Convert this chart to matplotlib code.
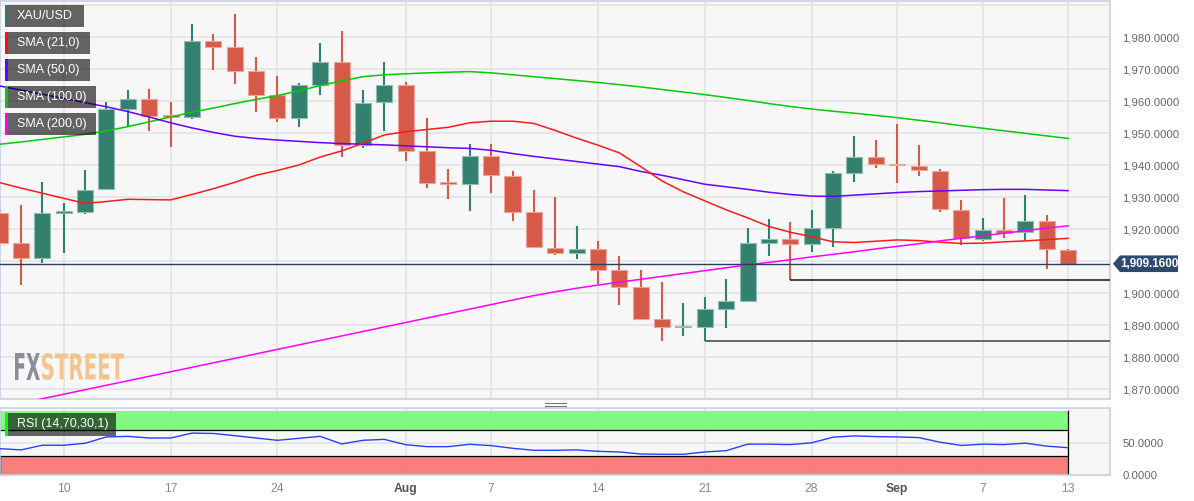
import matplotlib
matplotlib.use("Agg")
import matplotlib.pyplot as plt
from matplotlib.patches import Rectangle, Polygon, PathPatch
from matplotlib.textpath import TextPath
from matplotlib.font_manager import FontProperties
from matplotlib.transforms import Affine2D, IdentityTransform, blended_transform_factory
from matplotlib.lines import Line2D

plt.rcParams['font.family'] = ['Liberation Sans', 'DejaVu Sans']

# ---------------- data ----------------
dates = ["Jul 5", "Jul 6", "Jul 7", "Jul 10", "Jul 11", "Jul 12", "Jul 13", "Jul 14",
         "Jul 17", "Jul 18", "Jul 19", "Jul 20", "Jul 21", "Jul 24", "Jul 25", "Jul 26",
         "Jul 27", "Jul 28", "Jul 31", "Aug 1", "Aug 2", "Aug 3", "Aug 4", "Aug 7",
         "Aug 8", "Aug 9", "Aug 10", "Aug 11", "Aug 14", "Aug 15", "Aug 16", "Aug 17",
         "Aug 18", "Aug 21", "Aug 22", "Aug 23", "Aug 24", "Aug 25", "Aug 28", "Aug 29",
         "Aug 30", "Aug 31", "Sep 1", "Sep 4", "Sep 5", "Sep 6", "Sep 7", "Sep 8",
         "Sep 11", "Sep 12", "Sep 13"]

opens = [1925.0, 1915.6, 1910.9, 1925.0, 1925.3, 1932.5, 1957.5, 1960.6,
         1955.6, 1955.0, 1978.7, 1976.9, 1969.4, 1961.9, 1954.7, 1965.0,
         1972.2, 1946.2, 1959.7, 1965.0, 1944.4, 1934.8, 1934.1, 1942.8,
         1936.6, 1925.3, 1914.1, 1912.5, 1913.8, 1907.2, 1901.9, 1891.9,
         1889.3, 1889.4, 1895.0, 1897.5, 1915.6, 1916.9, 1915.3, 1920.3,
         1937.5, 1942.5, 1940.2, 1939.7, 1938.1, 1925.9, 1916.9, 1919.7,
         1919.1, 1922.5, 1913.4]
highs = [1926.2, 1927.5, 1934.7, 1928.1, 1938.4, 1959.7, 1963.4, 1963.7,
         1959.7, 1984.1, 1980.9, 1987.2, 1973.7, 1967.8, 1965.6, 1978.1,
         1981.9, 1963.4, 1972.2, 1965.9, 1954.7, 1938.7, 1946.6, 1946.6,
         1938.1, 1932.2, 1930.0, 1920.9, 1916.3, 1911.6, 1907.2, 1903.4,
         1896.9, 1898.7, 1904.4, 1920.3, 1923.1, 1922.2, 1925.9, 1938.1,
         1949.1, 1947.8, 1952.8, 1946.2, 1938.7, 1929.1, 1923.4, 1929.7,
         1930.6, 1924.4, 1913.8]
lows = [1914.8, 1902.5, 1909.4, 1912.5, 1924.6, 1932.3, 1952.2, 1950.6,
        1945.6, 1954.4, 1969.7, 1965.3, 1956.6, 1953.4, 1951.9, 1961.9,
        1942.5, 1945.3, 1950.6, 1941.3, 1932.8, 1929.4, 1925.6, 1931.3,
        1922.5, 1914.2, 1911.9, 1910.6, 1902.8, 1896.3, 1891.6, 1885.0,
        1886.6, 1885.0, 1889.1, 1897.3, 1911.6, 1904.1, 1912.8, 1914.4,
        1934.7, 1939.1, 1934.4, 1936.6, 1925.3, 1915.0, 1916.3, 1917.2,
        1916.6, 1907.5, 1908.8]
closes = [1915.6, 1910.9, 1925.0, 1925.6, 1932.2, 1957.5, 1960.6, 1955.3,
          1954.9, 1978.7, 1976.9, 1969.4, 1961.9, 1954.7, 1965.0, 1972.2,
          1946.2, 1959.4, 1965.0, 1944.4, 1934.4, 1934.2, 1942.8, 1936.9,
          1925.3, 1914.4, 1912.5, 1913.8, 1907.2, 1901.9, 1891.9, 1889.4,
          1889.6, 1895.0, 1897.5, 1915.6, 1916.9, 1915.3, 1920.3, 1937.5,
          1942.5, 1940.3, 1939.9, 1938.4, 1926.2, 1917.2, 1919.7, 1918.8,
          1922.5, 1913.8, 1909.16]

sma21 = [1934.5, 1932.8, 1931.2, 1929.6, 1928.0, 1928.6, 1929.3, 1929.2, 1929.1, 1930.8,
         1932.6, 1934.6, 1936.8, 1938.3, 1940.0, 1942.5, 1944.4, 1946.8, 1949.4, 1950.4,
         1951.1, 1951.8, 1953.2, 1953.7, 1953.7, 1953.0, 1950.8, 1948.4, 1946.2, 1943.8,
         1939.5, 1935.0, 1931.6, 1928.8, 1926.0, 1923.5, 1920.8, 1919.0, 1917.6, 1916.0,
         1915.8, 1916.2, 1916.6, 1916.4, 1915.9, 1915.5, 1915.6, 1916.0, 1916.3, 1916.7,
         1917.1]
sma50 = [1964.7, 1963.4, 1962.1, 1960.8, 1959.5, 1958.2, 1956.7, 1955.0, 1953.2, 1951.6,
         1950.2, 1949.0, 1948.3, 1947.8, 1947.4, 1947.0, 1946.7, 1946.5, 1946.3, 1946.0,
         1945.7, 1945.4, 1945.2, 1944.6, 1943.6, 1942.7, 1941.9, 1941.1, 1940.3, 1939.5,
         1938.0, 1936.8, 1935.4, 1934.0, 1933.2, 1932.4, 1931.5, 1930.8, 1930.3, 1930.2,
         1930.6, 1931.0, 1931.4, 1931.7, 1931.9, 1932.1, 1932.3, 1932.4, 1932.4, 1932.2,
         1932.0]
sma100 = [1946.5, 1947.2, 1948.0, 1948.8, 1949.6, 1950.7, 1952.0, 1953.5, 1955.0, 1956.5,
          1957.8, 1959.2, 1960.5, 1961.7, 1963.2, 1964.8, 1966.3, 1967.6, 1968.2, 1968.5,
          1968.8, 1969.0, 1969.2, 1968.8, 1968.2, 1967.6, 1967.0, 1966.4, 1965.8, 1965.1,
          1964.4, 1963.6, 1962.8, 1962.0, 1961.1, 1960.2, 1959.2, 1958.3, 1957.5, 1956.8,
          1956.2, 1955.5, 1954.8, 1954.0, 1953.2, 1952.3, 1951.5, 1950.7, 1949.9, 1949.1,
          1948.3]
sma200 = [1864.2, 1865.6, 1867.0, 1868.4, 1869.8, 1871.2, 1872.6, 1874.0, 1875.4, 1876.8,
          1878.2, 1879.6, 1881.0, 1882.4, 1883.8, 1885.2, 1886.6, 1888.0, 1889.4, 1890.8,
          1892.2, 1893.6, 1895.0, 1896.4, 1897.8, 1899.2, 1900.4, 1901.5, 1902.5, 1903.4,
          1904.3, 1905.2, 1906.1, 1907.0, 1907.9, 1908.8, 1909.6, 1910.4, 1911.3, 1912.1,
          1912.9, 1913.8, 1914.6, 1915.4, 1916.3, 1917.1, 1917.9, 1918.7, 1919.5, 1920.3,
          1921.0]
rsi = [41.2, 39.2, 46.5, 46.5, 49.6, 59.5, 60.4, 57.8, 57.8, 65.5,
       64.9, 61.5, 57.8, 54.2, 57.3, 60.4, 48.5, 54.2, 55.7, 47.4,
       44.3, 44.3, 48.0, 45.9, 41.8, 38.6, 38.6, 39.2, 37.0, 36.0,
       32.8, 32.4, 32.4, 36.0, 38.0, 48.2, 48.2, 47.6, 50.3, 59.1,
       61.1, 60.0, 59.5, 58.5, 51.3, 46.2, 48.2, 47.6, 49.7, 45.1,
       42.6]

tick_idx = [3, 8, 13, 19, 23, 28, 33, 38, 42, 46, 50]
tick_labels = ["10", "17", "24", "Aug", "7", "14", "21", "28", "Sep", "7", "13"]
month_labels = ["Aug", "Sep"]
price_ticks = [1870, 1880, 1890, 1900, 1910, 1920, 1930, 1940, 1950, 1960, 1970, 1980, 1990]
rsi_ticks = [0, 50]
last_price = 1909.16
support_levels = [1904.1, 1885.0]
support_start = [37, 33]
support_colors = ["#111111", "#666666"]
legend_names = ["XAU/USD", "SMA (21,0)", "SMA (50,0)", "SMA (100,0)", "SMA (200,0)"]
legend_colors = ["#2e7d6e", "#ff1010", "#6a00ff", "#00cc00", "#ff00ff"]

# ---------------- figure ----------------
W, H = 1194, 501
fig = plt.figure(figsize=(W / 100, H / 100), dpi=100, facecolor="white")

def fx(x):
    return x / W

def fy(y):
    return 1 - y / H

ax = fig.add_axes([0, fy(399), fx(1110), (399 - 1) / H])
rax = fig.add_axes([0, fy(475), fx(1110), (475 - 408) / H])

n = len(closes)
xl = (0.017, 51.96)
GREEN = "#33806f"
RED = "#d65a48"
GREEN_E = "#8fbfb4"
RED_E = "#eba59a"
GRID = "#e3e3e3"
SPINE = "#c9d0e3"

for a in (ax, rax):
    a.set_facecolor("#f7f7f7")
    a.set_xlim(*xl)
    for s in a.spines.values():
        s.set_color(SPINE)
        s.set_linewidth(1.2)
    a.set_xticks(tick_idx)
    a.tick_params(length=0)
    a.grid(True, color=GRID, linewidth=1.2)
    a.set_axisbelow(True)

# main axis
ax.set_ylim(1866.9, 1991.25)
ax.yaxis.tick_right()
ax.set_yticks(price_ticks)
ax.set_yticklabels(["" if v in (1910, 1990) else f"{v:,.4f}" for v in price_ticks])
ax.tick_params(axis="y", labelsize=8.2, labelcolor="#666666", pad=9)
ax.set_xticklabels([])

# candles
for i in range(n):
    o, h, l, c = opens[i], highs[i], lows[i], closes[i]
    up = c >= o
    col = GREEN if up else RED
    ecol = GREEN_E if up else RED_E
    ax.vlines(i, l, h, color=col, linewidth=1.5, zorder=2)
    bottom = min(o, c)
    height = max(abs(c - o), 0.45)
    ax.add_patch(Rectangle((i - 0.375, bottom), 0.75, height, facecolor=col,
                           edgecolor=ecol, linewidth=0.8, zorder=3))

xs = list(range(n))
ax.plot(xs, sma100, color="#00cc00", linewidth=1.1, zorder=4)
ax.plot(xs, sma50, color="#6a00ff", linewidth=1.1, zorder=4)
ax.plot(xs, sma21, color="#ff1a1a", linewidth=1.1, zorder=4)
ax.plot(xs, sma200, color="#ff00ff", linewidth=1.1, zorder=4)

# price / support lines
ax.axhline(last_price, color="#2c3e5a", linewidth=1.0, zorder=5)
for lev, st, col in zip(support_levels, support_start, support_colors):
    ax.plot([st, xl[1]], [lev, lev], color=col, linewidth=1.4 if col == "#666666" else 1.1,
            zorder=5, solid_capstyle="butt")

# price tag
bt = blended_transform_factory(ax.transAxes, ax.transData)
hw = 2.6
poly = Polygon([(1 + 3 / 1110, last_price), (1 + 10 / 1110, last_price + hw),
                (1 + 68 / 1110, last_price + hw), (1 + 68 / 1110, last_price - hw),
                (1 + 10 / 1110, last_price - hw)], closed=True, transform=bt,
               facecolor="#2c4a70", edgecolor="none", clip_on=False, zorder=10)
ax.add_patch(poly)
ax.text(1 + 39 / 1110, last_price, f"{last_price:,.4f}", transform=bt, color="white",
        fontsize=8.4, fontweight="bold", ha="center", va="center", clip_on=False, zorder=11)

# ---------------- RSI ----------------
rax.set_ylim(0, 104.7)
rax.yaxis.tick_right()
rax.set_yticks(rsi_ticks)
rax.set_yticklabels([f"{v:.4f}" for v in rsi_ticks])
rax.tick_params(axis="y", labelsize=8.2, labelcolor="#666666", pad=9)
rax.yaxis.grid(False)
rax.axhline(50, color=GRID, linewidth=1.2, zorder=0)
rax.set_xticklabels(tick_labels)
rax.tick_params(axis="x", labelsize=8.7, labelcolor="#888888", pad=6)
for lab in rax.get_xticklabels():
    if lab.get_text() in month_labels:
        lab.set_fontweight("bold")
        lab.set_color("#555555")

rax.add_patch(Rectangle((xl[0] - 1, 70), 50 - xl[0] + 1, 30, facecolor="#7bfb7b",
                        edgecolor="none", alpha=0.95, zorder=1))
rax.add_patch(Rectangle((xl[0] - 1, 0), 50 - xl[0] + 1, 30, facecolor="#fa7878",
                        edgecolor="none", alpha=0.95, zorder=1))
rax.plot([xl[0], 50], [70, 70], color="black", linewidth=0.9, zorder=2)
rax.plot([xl[0], 50], [30, 30], color="black", linewidth=0.9, zorder=2)
rax.plot([50, 50], [0, 100], color="black", linewidth=0.9, zorder=2)
rax.plot([xl[0] + 0.02, xl[0] + 0.02], [0, 30], color="black", linewidth=0.9, zorder=2)
rax.plot(xs, rsi, color="#2b3dff", linewidth=1.0, zorder=3)

# ---------------- overlays (legend boxes, watermark, handle) ----------------
def box(x0, y0, x1, y1, strip, label):
    fig.add_artist(Rectangle((fx(x0), fy(y1)), fx(x1 - x0), (y1 - y0) / H,
                             transform=fig.transFigure, facecolor="black", alpha=0.6,
                             edgecolor="none", zorder=20))
    fig.add_artist(Rectangle((fx(x0), fy(y1)), fx(3), (y1 - y0) / H,
                             transform=fig.transFigure, facecolor=strip,
                             edgecolor="none", zorder=21))
    fig.text(fx(x0 + 12), fy((y0 + y1) / 2), label, color="white", fontsize=9,
             ha="left", va="center", zorder=22)

box_right = [84, 90, 90, 96, 96]
for k, (name, colr) in enumerate(zip(legend_names, legend_colors)):
    y0 = 5 + k * 27
    box(5, y0, box_right[k], y0 + 22, colr, name)
box(5, 413, 116, 436, "#00ff00", "RSI (14,70,30,1)")

# watermark FXSTREET
fp = FontProperties(family="DejaVu Sans", weight="bold")
def stretched(text, x0, x1, ytop, ybot, color):
    tp = TextPath((0, 0), text, size=100, prop=fp)
    ext = tp.get_extents()
    sx = (x1 - x0) / ext.width
    sy = (ybot - ytop) / ext.height
    tr = Affine2D().translate(-ext.x0, -ext.y0).scale(sx, sy).translate(x0, H - ybot)
    fig.add_artist(PathPatch(tp, transform=tr + IdentityTransform(), facecolor=color,
                             edgecolor="none", zorder=15))
stretched("FX", 15, 40, 353, 380, "#8b8e94")
stretched("STREET", 42, 124, 353, 380, "#f2c490")

# panel handle
for yy in (402.5, 405.5):
    fig.add_artist(Line2D([fx(545), fx(566)], [fy(yy), fy(yy)], transform=fig.transFigure,
                          color="#777777", linewidth=0.8))

fig.savefig("out.png", dpi=100, facecolor="white")
